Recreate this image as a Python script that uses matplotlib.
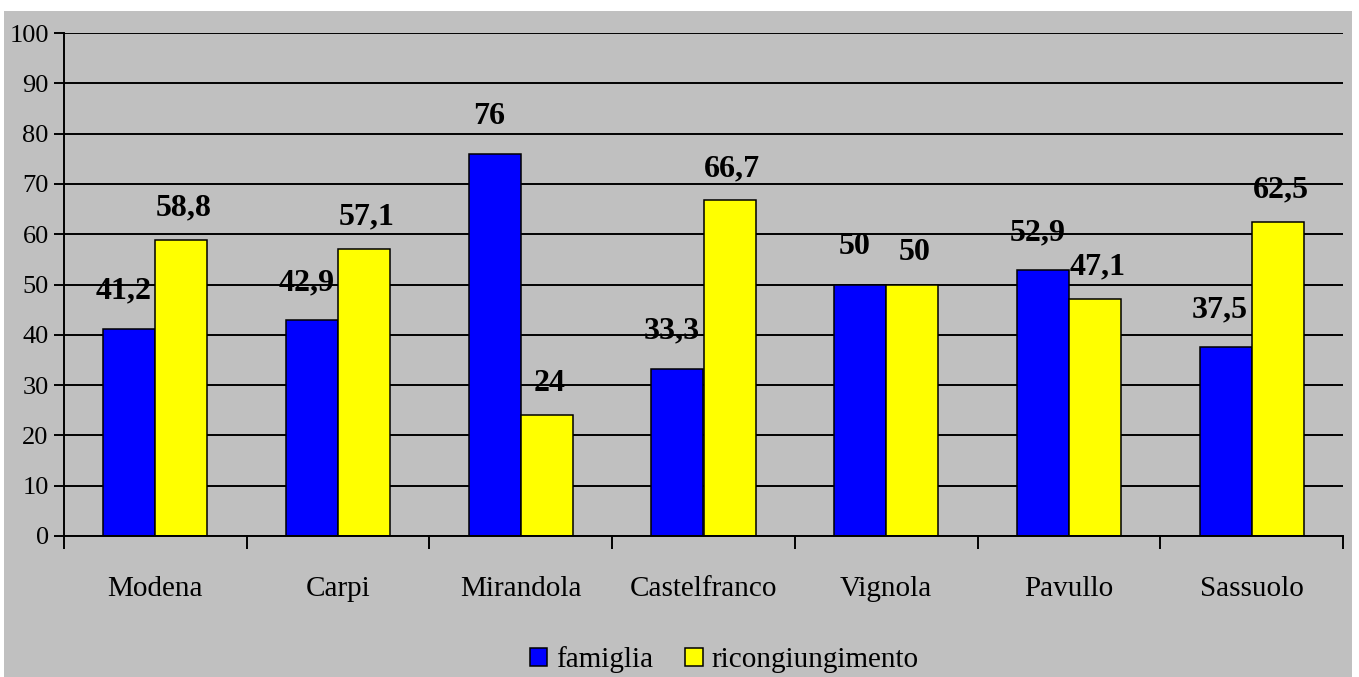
import numpy as np
import matplotlib.pyplot as plt
from matplotlib.patches import Rectangle

plt.rcParams["font.family"] = ["Liberation Serif", "DejaVu Serif"]

# Values per town
towns = ["Modena", "Carpi", "Mirandola", "Castelfranco", "Vignola", "Pavullo", "Sassuolo"]
famiglia = [41.2, 42.9, 76, 33.3, 50, 52.9, 37.5]
ricongiungimento = [58.8, 57.1, 24, 66.7, 50, 47.1, 62.5]
y_ticks = list(range(0, 101, 10))

GREY = "#C0C0C0"
BLUE = "#0000FF"
YELLOW = "#FFFF00"

W, H = 1359, 677
fig = plt.figure(figsize=(W / 100, H / 100), dpi=100)
fig.patch.set_facecolor("white")

# grey chart area with a thin white margin on top/left/right
fig.patches.append(Rectangle((4 / W, 0), (1352 - 4) / W, (H - 11) / H,
                             transform=fig.transFigure, facecolor=GREY,
                             edgecolor="none", zorder=-10))

left, right, top, bottom = 64, 1343, 33, 536
ax = fig.add_axes([left / W, (H - bottom) / H, (right - left) / W, (bottom - top) / H])
ax.set_facecolor(GREY)

x = np.arange(len(towns))
bw = 0.285
b1 = ax.bar(x - bw / 2, famiglia, bw, color=BLUE, edgecolor="black", linewidth=1.1,
            label="famiglia", zorder=3)
b2 = ax.bar(x + bw / 2, ricongiungimento, bw, color=YELLOW, edgecolor="black",
            linewidth=1.1, label="ricongiungimento", zorder=3)


def fmt(v):
    return f"{v:g}".replace(".", ",")


for bars, vals, dx, dy in [(b1, famiglia, -4, 27), (b2, ricongiungimento, 2, 23)]:
    for rect, v in zip(bars, vals):
        ax.annotate(fmt(v), (rect.get_x() + rect.get_width() / 2, v),
                    xytext=(dx, dy), textcoords="offset points",
                    ha="center", va="center", fontsize=23, fontweight="bold",
                    zorder=5)

ax.set_xlim(-0.5, len(towns) - 0.5)
ax.set_ylim(0, 100)
ax.set_yticks(y_ticks)
ax.yaxis.grid(True, color="black", linewidth=1.4, zorder=1)
ax.set_axisbelow(True)

for side in ["top", "right"]:
    ax.spines[side].set_visible(False)
for side in ["left", "bottom"]:
    ax.spines[side].set_linewidth(1.4)
    ax.spines[side].set_zorder(4)

ax.tick_params(axis="y", length=7, width=1.4, labelsize=19, pad=4, direction="out")

# category names at centers, tick marks at the boundaries
ax.set_xticks(x)
ax.set_xticklabels(towns, fontsize=21)
ax.tick_params(axis="x", which="major", length=0, pad=29)
ax.set_xticks(np.arange(-0.5, len(towns), 1), minor=True)
ax.tick_params(axis="x", which="minor", length=9, width=1.4, direction="out")

fig.legend(handles=[b1, b2], loc="center", bbox_to_anchor=(724 / W, 17 / H),
           ncol=2, frameon=False, fontsize=21, handlelength=0.6, handleheight=0.6,
           handletextpad=0.3, columnspacing=1.1, borderaxespad=0)

fig.savefig("out.png", dpi=100, facecolor=fig.get_facecolor())
